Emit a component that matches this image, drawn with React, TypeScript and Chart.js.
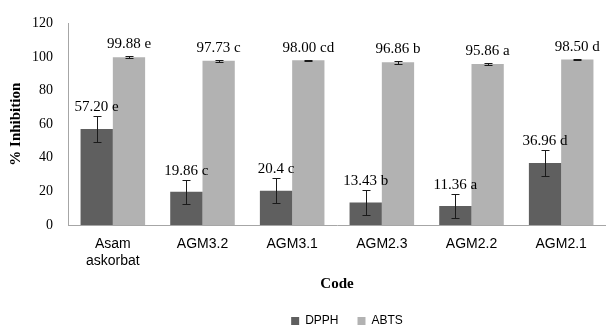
import React, { useEffect, useRef } from 'react';
import { Chart, registerables } from 'chart.js';

Chart.register(...registerables);

const categories: (string | string[])[] = [['Asam', 'askorbat'], 'AGM3.2', 'AGM3.1', 'AGM2.3', 'AGM2.2', 'AGM2.1'];
const dpphValues = [57.2, 19.86, 20.4, 13.43, 11.36, 36.96];
const abtsValues = [99.88, 97.73, 98.0, 96.86, 95.86, 98.5];
const dpphErrors = [7.5, 7.2, 7.3, 7.2, 7.2, 7.6];
const abtsErrors = [0.6, 0.7, 0.5, 0.8, 0.6, 0.4];
const dpphLabels = ['57.20 e', '19.86 c', '20.4 c', '13.43 b', '11.36 a', '36.96 d'];
const abtsLabels = ['99.88 e', '97.73 c', '98.00 cd', '96.86 b', '95.86 a', '98.50 d'];
const seriesNames = ['DPPH', 'ABTS'];
const yMin = 0;
const yMax = 120;
const yStep = 20;

const errorsBySeries = [dpphErrors, abtsErrors];
const labelsBySeries = [dpphLabels, abtsLabels];
const labelGap = [5, 8];

const errorBarPlugin = {
  id: 'errorBars',
  afterDatasetsDraw(chart: any) {
    const ctx = chart.ctx;
    const yScale = chart.scales.y;
    chart.data.datasets.forEach((ds: any, di: number) => {
      const meta = chart.getDatasetMeta(di);
      meta.data.forEach((bar: any, i: number) => {
        const v = ds.data[i];
        const e = errorsBySeries[di][i];
        const yTop = yScale.getPixelForValue(v + e);
        const yBot = yScale.getPixelForValue(v - e);
        const x = Math.round(bar.x) + 0.5;
        ctx.save();
        ctx.strokeStyle = '#1a1a1a';
        ctx.lineWidth = 1;
        ctx.beginPath();
        ctx.moveTo(x, Math.round(yTop) + 0.5);
        ctx.lineTo(x, Math.round(yBot) + 0.5);
        ctx.moveTo(x - 4, Math.round(yTop) + 0.5);
        ctx.lineTo(x + 4, Math.round(yTop) + 0.5);
        ctx.moveTo(x - 4, Math.round(yBot) + 0.5);
        ctx.lineTo(x + 4, Math.round(yBot) + 0.5);
        ctx.stroke();
        ctx.fillStyle = '#000';
        ctx.font = '15px "Liberation Serif", "Times New Roman", serif';
        ctx.textAlign = 'center';
        ctx.textBaseline = 'alphabetic';
        ctx.fillText(labelsBySeries[di][i], bar.x, yTop - labelGap[di]);
        ctx.restore();
      });
    });
  },
};

const legendShiftPlugin = {
  id: 'legendShift',
  afterLayout(chart: any) {
    const lg = chart.legend;
    if (lg) {
      lg.left += 10;
      lg.right += 10;
    }
  },
};

export default function App() {
  const canvasRef = useRef<HTMLCanvasElement | null>(null);

  useEffect(() => {
    if (!canvasRef.current) return;
    const chart = new Chart(canvasRef.current, {
      type: 'bar',
      data: {
        labels: categories as any,
        datasets: [
          {
            label: seriesNames[0],
            data: dpphValues,
            backgroundColor: '#5f5f5f',
            categoryPercentage: 0.72,
            barPercentage: 1.0,
          },
          {
            label: seriesNames[1],
            data: abtsValues,
            backgroundColor: '#b2b2b2',
            categoryPercentage: 0.72,
            barPercentage: 1.0,
          },
        ],
      },
      options: {
        responsive: false,
        animation: false,
        layout: { padding: { top: 22, left: 0, right: 0, bottom: -10 } },
        plugins: {
          legend: {
            position: 'bottom',
            fullSize: false,
            labels: {
              boxWidth: 8,
              boxHeight: 8,
              padding: 19,
              color: '#000',
              font: { family: '"Liberation Sans", Arial, sans-serif', size: 12 },
            },
          },
          tooltip: { enabled: false },
        },
        scales: {
          x: {
            grid: { display: false, drawTicks: false },
            border: { display: true, color: '#a6a6a6', width: 1 },
            ticks: {
              padding: 10,
              color: '#000',
              font: { family: '"Liberation Sans", Arial, sans-serif', size: 14, lineHeight: 1.25 },
              maxRotation: 0,
              autoSkip: false,
            },
            title: {
              display: true,
              text: 'Code',
              color: '#000',
              font: { family: '"Liberation Serif", "Times New Roman", serif', size: 15, weight: 'bold' },
              padding: { top: 0, bottom: 3 },
            },
            afterFit(scale: any) {
              scale.height = 71;
            },
          },
          y: {
            min: yMin,
            max: yMax,
            grid: { display: false, drawTicks: false },
            border: { display: true, color: '#a6a6a6', width: 1 },
            ticks: {
              stepSize: yStep,
              padding: 15,
              color: '#000',
              font: { family: '"Liberation Serif", "Times New Roman", serif', size: 14 },
            },
            title: {
              display: true,
              text: '% Inhibition',
              color: '#000',
              font: { family: '"Liberation Serif", "Times New Roman", serif', size: 15, weight: 'bold' },
              padding: { top: 7, bottom: 0 },
            },
            afterFit(scale: any) {
              scale.width = 68;
            },
          },
        },
      },
      plugins: [errorBarPlugin, legendShiftPlugin],
    });
    return () => chart.destroy();
  }, []);

  return (
    <div style={{ position: 'fixed', left: 0, top: 0, width: 606, height: 327, background: '#fff' }}>
      <canvas ref={canvasRef} width={606} height={327} style={{ display: 'block', width: 606, height: 327 }} />
    </div>
  );
}
